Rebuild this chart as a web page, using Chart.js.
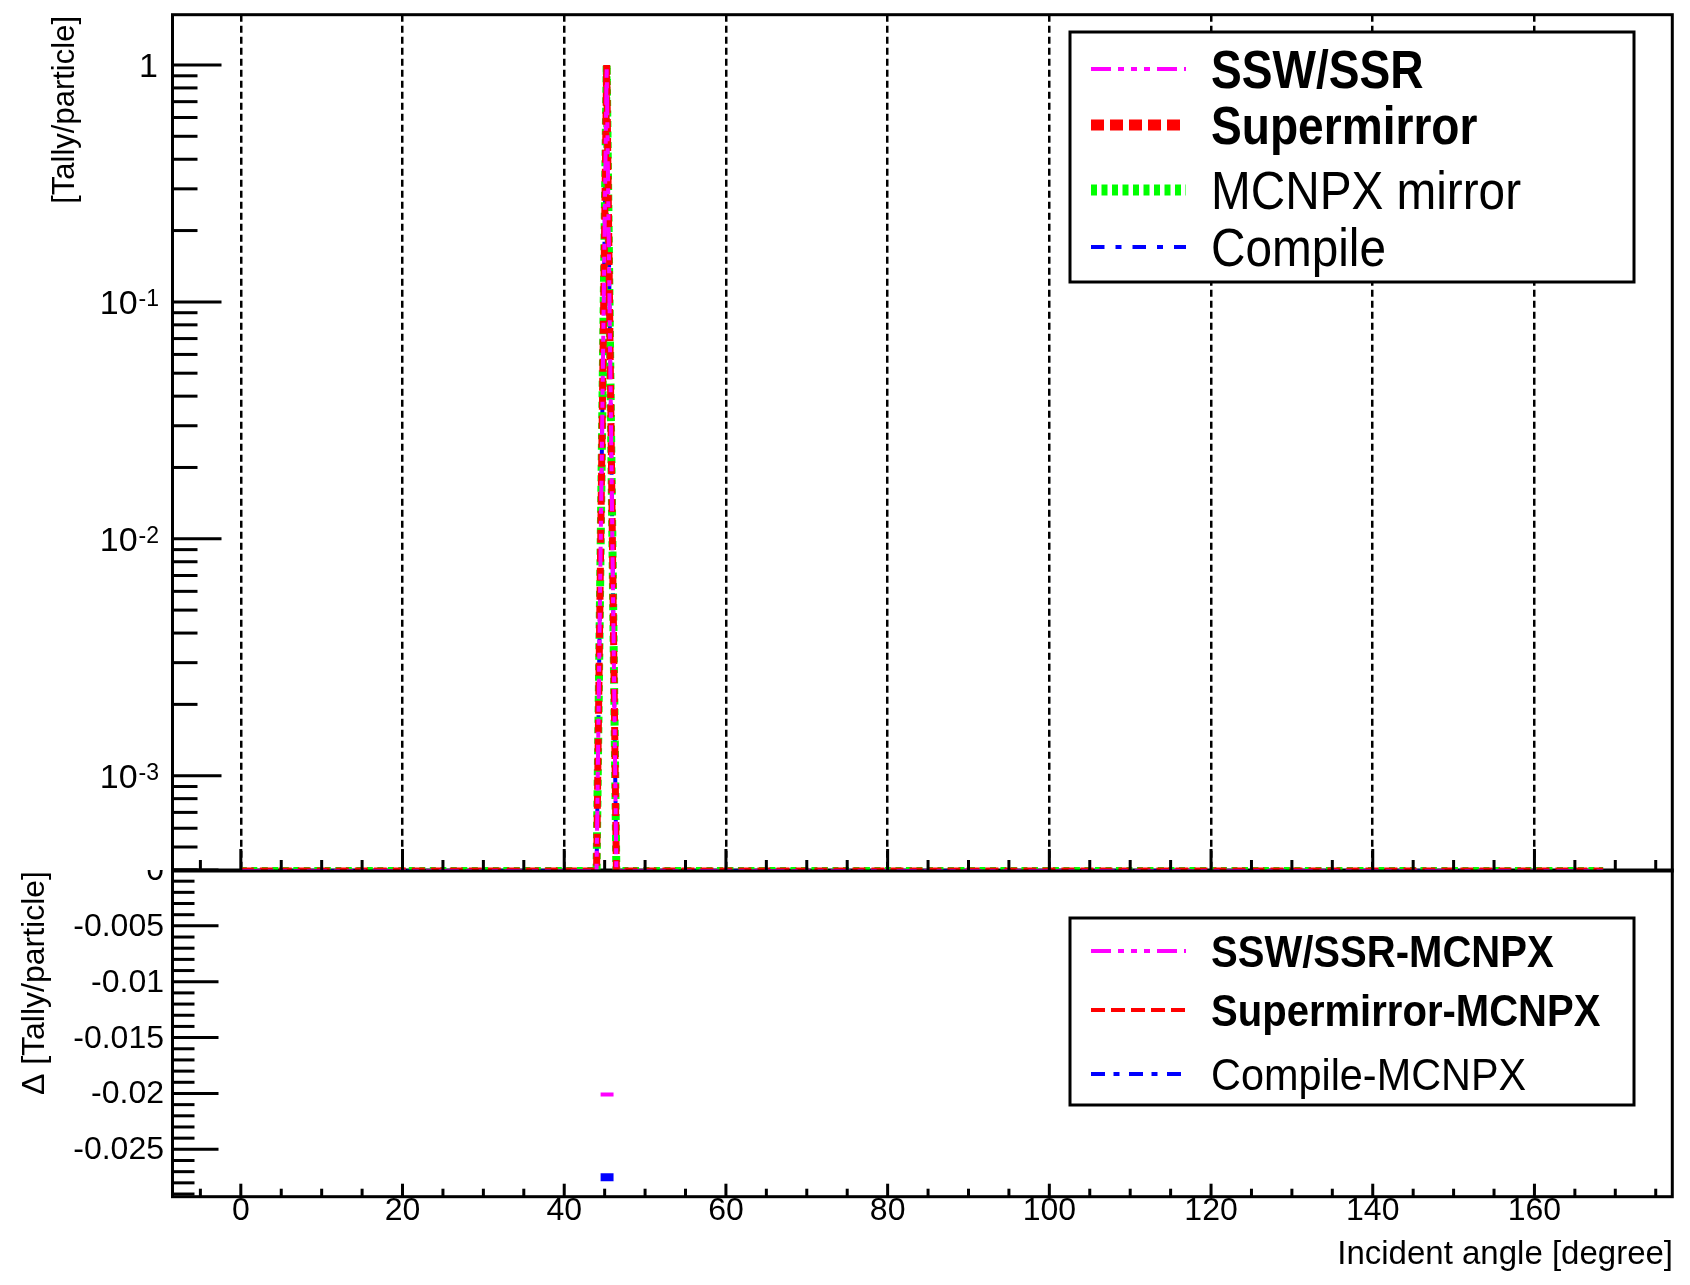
<!DOCTYPE html>
<html>
<head>
<title>Incident angle - Tally/particle</title>
<script src="https://cdn.jsdelivr.net/npm/chart.js"></script>
<style>
  body { margin: 0; background: #fff; }
  #wrap { position: relative; width: 1690px; height: 1285px; overflow: hidden; background: #fff; }
  canvas { position: absolute; left: 0; }
  #upper { top: 0; z-index: 2; }
  #lower { top: 860px; z-index: 1; }
</style>
</head>
<body>
<div id="wrap">
  <canvas id="lower" width="1690" height="425"></canvas>
  <canvas id="upper" width="1690" height="874"></canvas>
</div>
<script>
// upper pad: points of each curve (angle in degree), 0 = empty, drawn on the frame floor
var angles      = [0, 44.0, 45.25, 46.45, 168.5];
var sswSsr      = [0, 0, 0.98, 0, 0];
var supermirror = [0, 0, 1.0, 0, 0];
var mcnpxMirror = [0, 0, 1.0, 0, 0];
var compile     = [0, 0, 0.9725, 0, 0];

// lower pad: differences to MCNPX, only the filled bin
var diffAngles      = [44.5, 46.1];
var sswSsrDiff      = [-0.0201, -0.0201];
var supermirrorDiff = [0, 0];
var compileDiff     = [-0.0275, -0.0275];

// axes
var xTickValues = [0, 20, 40, 60, 80, 100, 120, 140, 160];
var xTickLabels = ['0', '20', '40', '60', '80', '100', '120', '140', '160'];
var logTickValues = [1, 0.1, 0.01, 0.001];
var logTickBase   = ['1', '10', '10', '10'];
var logTickExp    = ['', '-1', '-2', '-3'];
var diffTickValues = [0, -0.005, -0.01, -0.015, -0.02, -0.025];
var diffTickLabels = ['0', '-0.005', '-0.01', '-0.015', '-0.02', '-0.025'];

var FONT = "'Liberation Sans', Arial, sans-serif";
var X_MIN = -8.45, X_MAX = 177.05;
var LOG_MIN = 3.96e-4, LOG_MAX = 1.63;
var LOWER_TOP = 860;

function pts(xs, ys, floor) {
  return xs.map(function (x, i) {
    var y = ys[i];
    if (floor && y === 0) y = floor; // like ROOT: empty bins sit on the log floor
    return { x: x, y: y };
  });
}

function tick(ctx, x0, y0, x1, y1) {
  ctx.beginPath(); ctx.moveTo(x0, y0); ctx.lineTo(x1, y1); ctx.stroke();
}

function frame(ctx, a) {
  ctx.save();
  ctx.strokeStyle = '#000';
  ctx.lineWidth = 3;
  ctx.strokeRect(a.left, a.top, a.right - a.left, a.bottom - a.top);
  ctx.restore();
}

function xTicks(ctx, chart, majLen, minLen) {
  var a = chart.chartArea, xs = chart.scales.x;
  ctx.save();
  ctx.strokeStyle = '#000'; ctx.lineWidth = 3;
  for (var v = -5; v <= 175; v += 5) {
    var px = xs.getPixelForValue(v);
    var len = (v % 20 === 0) ? majLen : minLen;
    tick(ctx, px, a.bottom, px, a.bottom - len);
  }
  ctx.restore();
}

function rotatedTitle(ctx, text, x, yEnd, size) {
  ctx.save();
  ctx.font = size + 'px ' + FONT;
  ctx.fillStyle = '#000';
  ctx.translate(x, yEnd);
  ctx.rotate(-Math.PI / 2);
  ctx.textAlign = 'right';
  ctx.textBaseline = 'middle';
  ctx.fillText(text, 0, 0);
  ctx.restore();
}

function legend(ctx, chart, box, rows, size, squeeze, capHalf, bold) {
  ctx.save();
  ctx.fillStyle = '#fff';
  ctx.fillRect(box[0], box[1], box[2] - box[0], box[3] - box[1]);
  ctx.strokeStyle = '#000'; ctx.lineWidth = 3;
  ctx.strokeRect(box[0], box[1], box[2] - box[0], box[3] - box[1]);
  chart.data.datasets.forEach(function (ds, i) {
    var y = rows[i];
    ctx.save();
    ctx.strokeStyle = ds.borderColor;
    ctx.lineWidth = ds.legendWidth || ds.borderWidth;
    ctx.setLineDash(ds.borderDash || []);
    tick(ctx, 1091, y, 1186, y);
    ctx.restore();
    ctx.save();
    ctx.font = (bold[i] ? 'bold ' : '') + size + 'px ' + FONT;
    ctx.fillStyle = '#000';
    ctx.translate(1211, y + capHalf);
    ctx.scale(bold[i] ? squeeze - 0.03 : squeeze, 1);
    ctx.fillText(ds.label, 0, 0);
    ctx.restore();
  });
  ctx.restore();
}

var upperDecor = {
  id: 'upperDecor',
  afterDraw: function (chart) {
    var ctx = chart.ctx, a = chart.chartArea, ys = chart.scales.y;
    frame(ctx, a);
    // log ticks on the left
    ctx.save();
    ctx.strokeStyle = '#000'; ctx.lineWidth = 3;
    for (var e = -4; e <= 0; e++) {
      for (var k = 1; k <= 9; k++) {
        var v = k * Math.pow(10, e);
        if (v < ys.min || v > ys.max) continue;
        var py = ys.getPixelForValue(v);
        tick(ctx, a.left, py, a.left + (k === 1 ? 49 : 25), py);
      }
    }
    ctx.restore();
    xTicks(ctx, chart, 22, 11);
    // tick labels
    ctx.save();
    ctx.fillStyle = '#000';
    ctx.textAlign = 'right';
    logTickValues.forEach(function (v, i) {
      var py = ys.getPixelForValue(v);
      var right = 159, ew = 0;
      if (logTickExp[i]) {
        ctx.font = '23px ' + FONT;
        ew = ctx.measureText(logTickExp[i]).width;
        ctx.fillText(logTickExp[i], right, py + 4.5);
      }
      ctx.font = '34px ' + FONT;
      ctx.fillText(logTickBase[i], right - ew - 1, py + 12);
    });
    ctx.restore();
    rotatedTitle(ctx, '[Tally/particle]', 65.5, 16, 31);
    legend(ctx, chart, [1070, 32, 1634, 282], [69, 125, 190, 247], 53, 0.9, 19,
      [true, true, false, false]);
  }
};

var lowerDecor = {
  id: 'lowerDecor',
  afterDraw: function (chart) {
    var ctx = chart.ctx, a = chart.chartArea, ys = chart.scales.y, xs = chart.scales.x;
    frame(ctx, a);
    ctx.save();
    ctx.strokeStyle = '#000'; ctx.lineWidth = 3;
    for (var m = 0; m >= -29; m--) {
      var py = ys.getPixelForValue(m / 1000);
      tick(ctx, a.left, py, a.left + (m % 5 === 0 ? 46 : 22), py);
    }
    ctx.restore();
    xTicks(ctx, chart, 13, 8);
    // y labels, clipped by the upper pad
    ctx.save();
    ctx.beginPath(); ctx.rect(0, a.top, chart.width, chart.height); ctx.clip();
    ctx.fillStyle = '#000';
    ctx.font = '32px ' + FONT;
    ctx.textAlign = 'right';
    diffTickValues.forEach(function (v, i) {
      ctx.fillText(diffTickLabels[i], 164, ys.getPixelForValue(v) + 10);
    });
    ctx.restore();
    // x labels
    ctx.save();
    ctx.fillStyle = '#000';
    ctx.font = '32px ' + FONT;
    ctx.textAlign = 'center';
    xTickValues.forEach(function (v, i) {
      ctx.fillText(xTickLabels[i], xs.getPixelForValue(v), 1220 - LOWER_TOP);
    });
    ctx.font = '33px ' + FONT;
    ctx.textAlign = 'right';
    ctx.fillText('Incident angle [degree]', 1673, 1264 - LOWER_TOP);
    ctx.restore();
    rotatedTitle(ctx, '\u0394 [Tally/particle]', 35, 871 - LOWER_TOP, 32);
    legend(ctx, chart, [1070, 918 - LOWER_TOP, 1634, 1105 - LOWER_TOP],
      [951 - LOWER_TOP, 1010 - LOWER_TOP, 1074 - LOWER_TOP], 45, 0.92, 16,
      [true, true, false]);
  }
};

function lineSet(label, data, color, width, dash, extra) {
  var ds = {
    label: label, data: data, borderColor: color, borderWidth: width,
    borderDash: dash, pointRadius: 0, fill: false, tension: 0, clip: 0
  };
  for (var k in extra) ds[k] = extra[k];
  return ds;
}

var dashDotDot = [20, 7, 6, 7, 6, 7, 6, 7];

new Chart(document.getElementById('upper').getContext('2d'), {
  type: 'line',
  data: {
    datasets: [
      lineSet('SSW/SSR', pts(angles, sswSsr, LOG_MIN), '#ff00ff', 4, dashDotDot),
      lineSet('Supermirror', pts(angles, supermirror, LOG_MIN), '#ff0000', 7, [13, 6], { legendWidth: 11 }),
      lineSet('MCNPX mirror', pts(angles, mcnpxMirror, LOG_MIN), '#00ff00', 8, [6, 4.5], { legendWidth: 11 }),
      lineSet('Compile', pts(angles, compile, LOG_MIN), '#0000ff', 4, [13.5, 11, 6, 11])
    ]
  },
  options: {
    responsive: false,
    animation: false,
    devicePixelRatio: 1,
    layout: { padding: { left: 0, top: 14.7, right: 17.7, bottom: 0 } },
    plugins: { legend: { display: false }, tooltip: { enabled: false } },
    scales: {
      x: {
        type: 'linear', min: X_MIN, max: X_MAX,
        afterBuildTicks: function (s) { s.ticks = xTickValues.map(function (v) { return { value: v }; }); },
        afterFit: function (s) { s.height = 3; },
        ticks: { display: false },
        grid: { color: '#000', lineWidth: 2.5, drawTicks: false },
        border: { display: false, dash: [7, 4] }
      },
      y: {
        type: 'logarithmic', min: LOG_MIN, max: LOG_MAX,
        afterFit: function (s) { s.width = 172.5; },
        ticks: { display: false },
        grid: { display: false },
        border: { display: false }
      }
    }
  },
  plugins: [upperDecor]
});

new Chart(document.getElementById('lower').getContext('2d'), {
  type: 'line',
  data: {
    datasets: [
      lineSet('SSW/SSR-MCNPX', pts(diffAngles, sswSsrDiff), '#ff00ff', 4, dashDotDot),
      lineSet('Supermirror-MCNPX', pts(diffAngles, supermirrorDiff), '#ff0000', 4, [14, 6]),
      lineSet('Compile-MCNPX', pts(diffAngles, compileDiff), '#0000ff', 8, [14, 8.5, 6, 9.5], { legendWidth: 4 })
    ]
  },
  options: {
    responsive: false,
    animation: false,
    devicePixelRatio: 1,
    layout: { padding: { left: 0, top: 10, right: 17.7, bottom: 0 } },
    plugins: { legend: { display: false }, tooltip: { enabled: false } },
    scales: {
      x: {
        type: 'linear', min: X_MIN, max: X_MAX,
        afterFit: function (s) { s.height = 88.3; },
        ticks: { display: false },
        grid: { display: false },
        border: { display: false }
      },
      y: {
        type: 'linear', min: -0.02924, max: 0,
        afterFit: function (s) { s.width = 172.5; },
        ticks: { display: false },
        grid: { display: false },
        border: { display: false }
      }
    }
  },
  plugins: [lowerDecor]
});
</script>
</body>
</html>
